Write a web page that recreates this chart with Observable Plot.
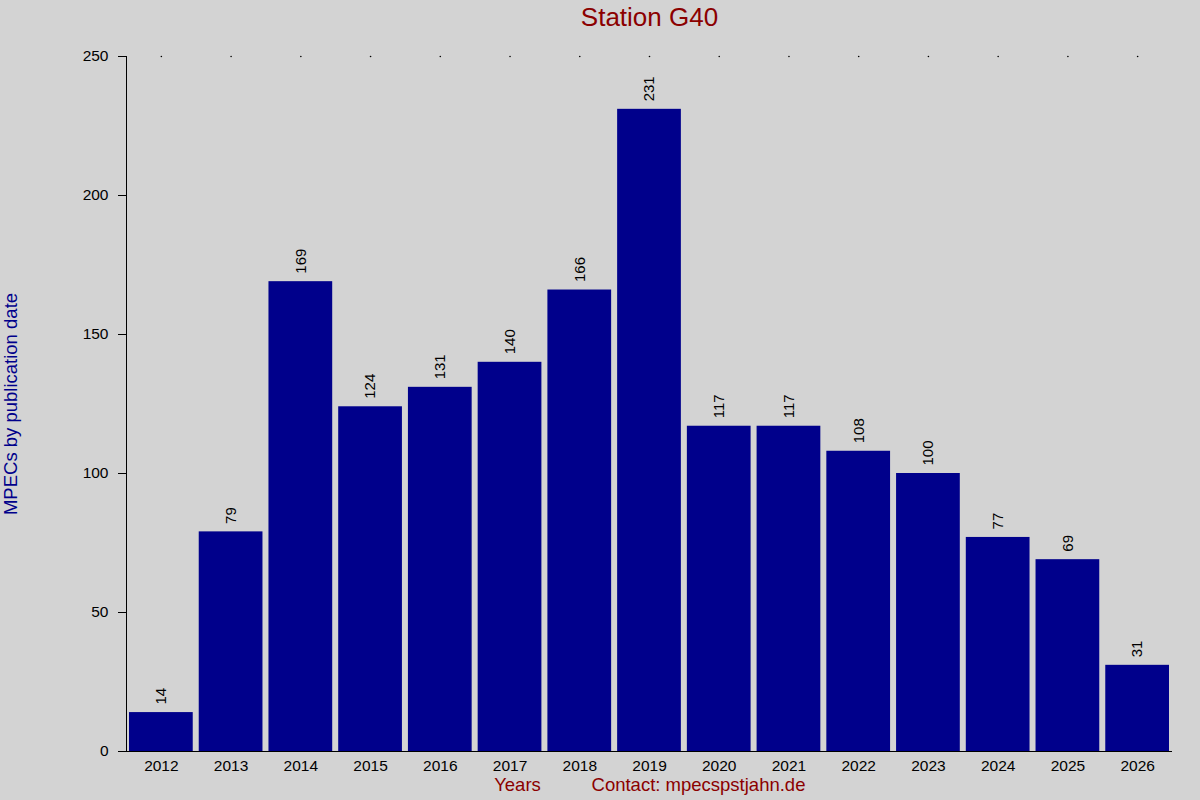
<!DOCTYPE html>
<html><head><meta charset="utf-8">
<script src="https://cdn.jsdelivr.net/npm/d3@7"></script>
<script src="https://cdn.jsdelivr.net/npm/@observablehq/plot@0.6"></script>
<style>body{margin:0;background:#d3d3d3;} svg{display:block}</style>
</head><body><div id="chart"></div>
<script>
const years = ["2012","2013","2014","2015","2016","2017","2018","2019","2020","2021","2022","2023","2024","2025","2026"];
const counts = [14,79,169,124,131,140,166,231,117,117,108,100,77,69,31];
const yTicks = [0,50,100,150,200,250];
const title = "Station G40";
const yLabel = "MPECs by publication date";
const xLabel = "Years";
const contact = "Contact: mpecspstjahn.de";
const data = years.map((y,i)=>({year:y,count:counts[i]}));

const chart = Plot.plot({
  width:1200, height:800,
  marginLeft:126, marginRight:28, marginTop:56, marginBottom:49,
  style:{background:"#d3d3d3", fontFamily:"'Liberation Sans', Arial, sans-serif", fontSize:"15px", color:"black"},
  x:{domain:years, paddingInner:0.086, paddingOuter:0.043, round:false, label:null},
  y:{domain:[0,250], label:null},
  marks:[
    Plot.barY(data,{x:"year", y:"count", fill:"#00008b"}),
    Plot.text(data,{x:"year", y:"count", text:d=>String(d.count), rotate:-90, textAnchor:"start", dy:-8, fontSize:15, fill:"black"}),
    Plot.dot(years,{x:d=>d, y:()=>250, r:0.8, fill:"black", stroke:null}),
    Plot.axisY({ticks:yTicks, tickSize:8, tickPadding:10, fontSize:15.5}),
    Plot.axisX({tickSize:0, tickPadding:8, fontSize:15.5}),
    Plot.ruleY([0],{stroke:"black"}),
    Plot.frame({anchor:"left", stroke:"black"}),
    Plot.text([title],{frameAnchor:"top", lineAnchor:"middle", textAnchor:"middle", dy:-39, fontSize:26, fill:"#8b0000"}),
    Plot.text([yLabel],{frameAnchor:"left", lineAnchor:"middle", textAnchor:"middle", dx:-115, rotate:-90, fontSize:18.5, fill:"#00008b"}),
    Plot.text([xLabel],{frameAnchor:"bottom", lineAnchor:"middle", textAnchor:"middle", dx:-132, dy:34, fontSize:18.5, fill:"#8b0000"}),
    Plot.text([contact],{frameAnchor:"bottom", lineAnchor:"middle", textAnchor:"middle", dx:49, dy:34, fontSize:18.5, fill:"#8b0000"})
  ]
});
document.getElementById("chart").appendChild(chart);
</script>
</body></html>
